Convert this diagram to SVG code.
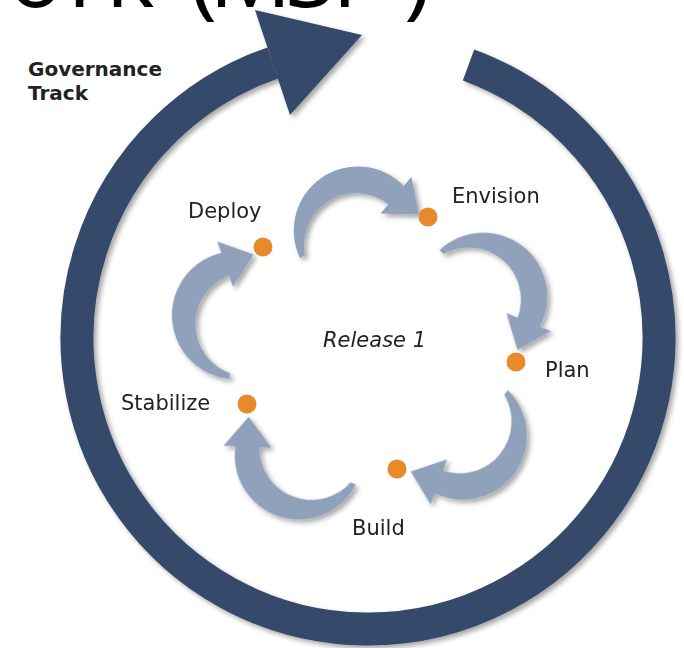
<svg xmlns="http://www.w3.org/2000/svg" xmlns:xlink="http://www.w3.org/1999/xlink" width="684" height="648" viewBox="0 0 684 648">
  <style>
    .lbl { font-family: "DejaVu Sans", Verdana, sans-serif; font-size: 21px; fill: #222; }
    .gov { font-family: "DejaVu Sans", Verdana, sans-serif; font-size: 20px; font-weight: bold; fill: #222; }
    .rel { font-family: "DejaVu Sans", Verdana, sans-serif; font-size: 21px; font-style: italic; fill: #222; }
    .title { font-family: "Open Sans", "Noto Sans", sans-serif; font-size: 92px; fill: #000; }
    .dot { fill: #e8892b; }
    .ring { fill: none; stroke: #344a6a; stroke-width: 33; }
    .ringhead { fill: #344a6a; }
    .arrow { fill: #8fa1bb; }
  </style>
  <defs>
    <filter id="sh" x="-15%" y="-15%" width="140%" height="140%">
      <feDropShadow dx="3" dy="3" stdDeviation="2.5" flood-color="#000" flood-opacity="0.35"/>
    </filter>
    <path id="arrow" d="M 300 258 A 64 64 0 0 1 403.7 185.9 L 411.4 176.7 L 419 214.4 L 380.6 213.5 L 388.3 204.3 A 52 52 0 0 0 305 255 Z"/>
  </defs>
  <rect width="684" height="648" fill="#fff"/>

  <g id="title">
    <text class="title" x="-64 8 68 106 160 190 209 285 332 404" y="7">work (MSF)</text>
  </g>

  <g id="governance-track">
    <g filter="url(#sh)">
      <path class="ring" d="M 468.5 64.9 A 291 291 0 1 1 272.8 63.0"/>
      <polygon class="ringhead" points="255,10 290,115 362,35"/>
    </g>
    <text class="gov" x="28" y="76">Governance</text>
    <text class="gov" x="28" y="100">Track</text>
  </g>

  <g id="connectors" filter="url(#sh)">
    <use class="arrow" xlink:href="#arrow" href="#arrow"/>
    <use class="arrow" xlink:href="#arrow" href="#arrow" transform="translate(480.5,301) rotate(72) translate(-361,-234.5)"/>
    <use class="arrow" xlink:href="#arrow" href="#arrow" transform="translate(458.5,433) rotate(160.2) translate(-361,-234.5)"/>
    <use class="arrow" xlink:href="#arrow" href="#arrow" transform="translate(300,450.5) rotate(232.4) translate(-361,-234.5)"/>
    <use class="arrow" xlink:href="#arrow" href="#arrow" transform="translate(241,314.5) rotate(300.9) translate(-361,-234.5)"/>
  </g>

  <g id="release">
    <text class="rel" x="323" y="347">Release 1</text>
  </g>

  <g id="envision">
    <circle class="dot" cx="428" cy="217" r="9.5"/>
    <text class="lbl" x="452" y="203">Envision</text>
  </g>
  <g id="plan">
    <circle class="dot" cx="516" cy="362" r="9.5"/>
    <text class="lbl" x="545" y="377">Plan</text>
  </g>
  <g id="build">
    <circle class="dot" cx="397" cy="469" r="9.5"/>
    <text class="lbl" x="352" y="535">Build</text>
  </g>
  <g id="stabilize">
    <circle class="dot" cx="247" cy="404" r="9.5"/>
    <text class="lbl" x="121" y="410">Stabilize</text>
  </g>
  <g id="deploy">
    <circle class="dot" cx="263" cy="247" r="9.5"/>
    <text class="lbl" x="188" y="218">Deploy</text>
  </g>
</svg>
